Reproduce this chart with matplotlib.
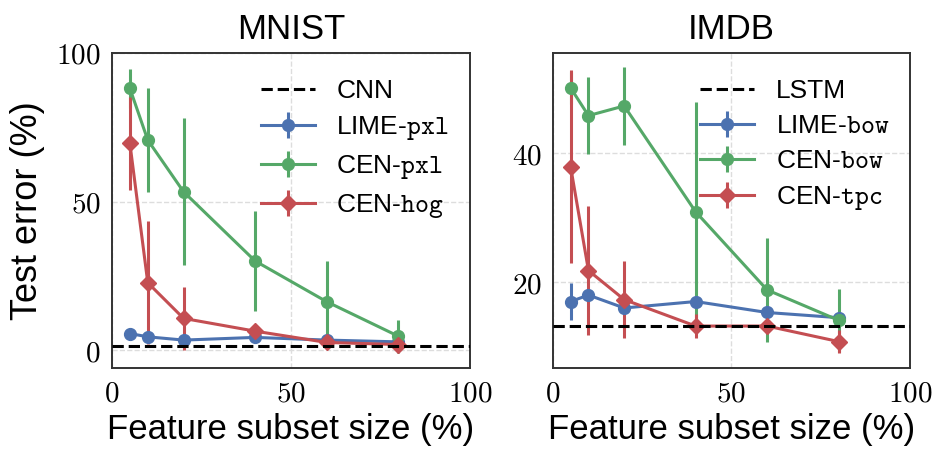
import matplotlib
matplotlib.use("Agg")
import matplotlib.pyplot as plt
import numpy as np

plt.rcParams['mathtext.fontset'] = 'cm'
plt.rcParams['font.family'] = ['Liberation Sans', 'DejaVu Sans']

# ---------------- data ----------------
subset_sizes = [5, 10, 20, 40, 60, 80]

mnist_cnn = 1.3
mnist_lime_pxl = [5.6, 4.5, 3.4, 4.3, 3.4, 2.8]
mnist_lime_pxl_err = [1.0, 1.0, 0.8, 1.0, 0.8, 0.8]
mnist_cen_pxl = [88.1, 70.7, 53.3, 30.0, 16.3, 4.7]
mnist_cen_pxl_err = [6.5, 17.6, 24.7, 16.8, 13.8, 5.6]
mnist_cen_hog = [69.6, 22.7, 10.7, 6.4, 2.6, 1.9]
mnist_cen_hog_err = [15.7, 20.7, 10.7, 2.0, 1.0, 0.8]

imdb_lstm = 13.2
imdb_lime_bow = [17.0, 18.0, 16.0, 17.0, 15.3, 14.5]
imdb_lime_bow_err = [2.8, 1.0, 0.8, 0.8, 0.8, 0.8]
imdb_cen_bow = [50.1, 45.8, 47.3, 30.9, 18.8, 14.1]
imdb_cen_bow_err = [2.5, 6.0, 6.0, 17.0, 8.0, 4.9]
imdb_cen_tpc = [37.9, 21.8, 17.3, 13.2, 13.2, 10.8]
imdb_cen_tpc_err = [15.0, 10.0, 6.0, 1.8, 1.0, 1.8]

x_ticks = [0, 50, 100]
mnist_yticks = [0, 50, 100]
imdb_yticks = [20, 40]

blue = '#4C72B0'
green = '#55A868'
red = '#C44E52'

fig = plt.figure(figsize=(9.37, 4.51), dpi=100)
ax1 = fig.add_axes([0.1195, 0.184, 0.3821, 0.6985])
ax2 = fig.add_axes([0.5899, 0.184, 0.3813, 0.6985])

def style(ax):
    ax.set_facecolor('white')
    for s in ax.spines.values():
        s.set_color('#333333')
        s.set_linewidth(1.4)
    ax.grid(True, linestyle='--', color='#dddddd', linewidth=1.0)
    ax.set_axisbelow(True)
    ax.tick_params(length=0, pad=8, labelsize=21)
    ax.set_xlim(0, 100)
    ax.set_xticks(x_ticks)
    ax.set_xticklabels([f'${t}$' for t in x_ticks])
    ax.set_xlabel('Feature subset size (%)', fontsize=25, labelpad=4)

kw = dict(lw=2.2, elinewidth=2.2, capsize=0, markersize=8.5)

def draw(ax, base, base_label, series, title):
    style(ax)
    ax.axhline(base, color='black', linestyle='--', lw=2.2, label=base_label, zorder=5)
    for y, e, c, m, lab in series:
        ax.errorbar(subset_sizes, y, yerr=e, color=c, marker=m, label=lab, **kw)
    ax.set_title(title, fontsize=25, pad=10)
    ax.legend(loc='upper right', frameon=False, fontsize=19,
              labelspacing=0.42, handlelength=2.05, handletextpad=0.8,
              borderaxespad=0.4, bbox_to_anchor=(1.0, 0.984))

draw(ax1, mnist_cnn, 'CNN', [
    (mnist_lime_pxl, mnist_lime_pxl_err, blue, 'o', r'LIME-$\mathtt{pxl}$'),
    (mnist_cen_pxl, mnist_cen_pxl_err, green, 'o', r'CEN-$\mathtt{pxl}$'),
    (mnist_cen_hog, mnist_cen_hog_err, red, 'D', r'CEN-$\mathtt{hog}$'),
], 'MNIST')
ax1.set_ylim(-6, 100)
ax1.set_yticks(mnist_yticks)
ax1.set_yticklabels([f'${t}$' for t in mnist_yticks])
ax1.set_ylabel('Test error (%)', fontsize=26, labelpad=8)

draw(ax2, imdb_lstm, 'LSTM', [
    (imdb_lime_bow, imdb_lime_bow_err, blue, 'o', r'LIME-$\mathtt{bow}$'),
    (imdb_cen_bow, imdb_cen_bow_err, green, 'o', r'CEN-$\mathtt{bow}$'),
    (imdb_cen_tpc, imdb_cen_tpc_err, red, 'D', r'CEN-$\mathtt{tpc}$'),
], 'IMDB')
ax2.set_ylim(6.7, 55.5)
ax2.set_yticks(imdb_yticks)
ax2.set_yticklabels([f'${t}$' for t in imdb_yticks])

fig.savefig('out.png', dpi=100)
